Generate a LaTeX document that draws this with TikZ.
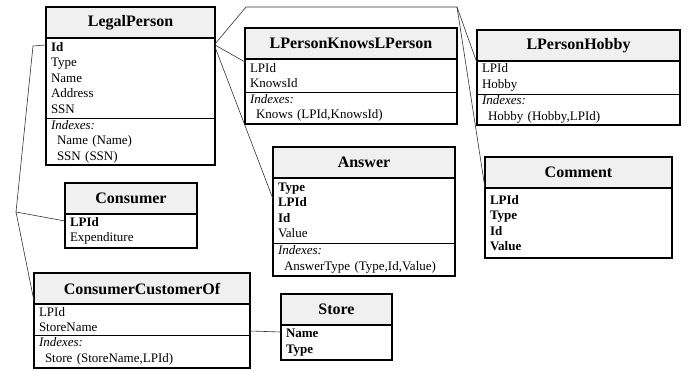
\documentclass[tikz,border=0pt]{standalone}
\usepackage{fontspec}
\setmainfont{Liberation Serif}
\usetikzlibrary{positioning}

\tikzset{
  ttl/.style={draw, line width=1.5pt, fill=gray!12, outer sep=0pt, inner sep=0pt,
    minimum height=31pt, font=\bfseries\fontsize{16}{18}\selectfont},
  sect/.style={draw, line width=0.6pt, outer sep=0pt, inner xsep=5pt, inner ysep=1pt,
    align=left, font=\fontsize{13}{15.5}\selectfont},
  frame/.style={line width=1.5pt},
  link/.style={black!80, line width=0.6pt}
}

\begin{document}
\begin{tikzpicture}[x=1pt, y=-1pt]
\useasboundingbox (0,0) rectangle (687,371);

% LegalPerson
\node[ttl, minimum width=169pt, anchor=north west] (lp) at (46,7) {LegalPerson};
\node[sect, text width=159pt, minimum height=80pt, below=0pt of lp] (lp-f)
  {\textbf{Id}\\Type\\Name\\Address\\SSN};
\node[sect, text width=159pt, minimum height=47pt, below=0pt of lp-f] (lp-i)
  {\textit{Indexes:}\\\hspace*{6pt}Name (Name)\\\hspace*{6pt}SSN (SSN)};
\draw[frame] (lp.north west) rectangle (lp-i.south east);

% LPersonKnowsLPerson
\node[ttl, minimum width=212pt, anchor=north west] (lk) at (245,28) {LPersonKnowsLPerson};
\node[sect, text width=202pt, minimum height=33pt, below=0pt of lk] (lk-f)
  {LPId\\KnowsId};
\node[sect, text width=202pt, minimum height=32pt, below=0pt of lk-f] (lk-i)
  {\textit{Indexes:}\\\hspace*{6pt}Knows (LPId,KnowsId)};
\draw[frame] (lk.north west) rectangle (lk-i.south east);

% LPersonHobby
\node[ttl, minimum width=203pt, anchor=north west] (hb) at (477,30) {LPersonHobby};
\node[sect, text width=193pt, minimum height=33pt, below=0pt of hb] (hb-f)
  {LPId\\Hobby};
\node[sect, text width=193pt, minimum height=31pt, below=0pt of hb-f] (hb-i)
  {\textit{Indexes:}\\\hspace*{6pt}Hobby (Hobby,LPId)};
\draw[frame] (hb.north west) rectangle (hb-i.south east);

% Answer
\node[ttl, minimum width=182pt, anchor=north west] (an) at (273,147) {Answer};
\node[sect, text width=172pt, minimum height=65pt, below=0pt of an] (an-f)
  {\textbf{Type}\\\textbf{LPId}\\\textbf{Id}\\Value};
\node[sect, text width=172pt, minimum height=33pt, below=0pt of an-f] (an-i)
  {\textit{Indexes:}\\\hspace*{6pt}AnswerType (Type,Id,Value)};
\draw[frame] (an.north west) rectangle (an-i.south east);

% Comment
\node[ttl, minimum width=187pt, anchor=north west] (cm) at (485,157) {Comment};
\node[sect, text width=177pt, minimum height=70pt, below=0pt of cm] (cm-f)
  {\textbf{LPId}\\\textbf{Type}\\\textbf{Id}\\\textbf{Value}};
\draw[frame] (cm.north west) rectangle (cm-f.south east);

% Consumer
\node[ttl, minimum width=132pt, anchor=north west] (cs) at (65,183) {Consumer};
\node[sect, text width=122pt, minimum height=34pt, below=0pt of cs] (cs-f)
  {\textbf{LPId}\\Expenditure};
\draw[frame] (cs.north west) rectangle (cs-f.south east);

% ConsumerCustomerOf
\node[ttl, minimum width=216pt, anchor=north west] (cc) at (34,273) {ConsumerCustomerOf};
\node[sect, text width=206pt, minimum height=31pt, below=0pt of cc] (cc-f)
  {LPId\\StoreName};
\node[sect, text width=206pt, minimum height=33pt, below=0pt of cc-f] (cc-i)
  {\textit{Indexes:}\\\hspace*{6pt}Store (StoreName,LPId)};
\draw[frame] (cc.north west) rectangle (cc-i.south east);

% Store
\node[ttl, minimum width=111pt, anchor=north west] (st) at (281,294) {Store};
\node[sect, text width=101pt, minimum height=35pt, below=0pt of st] (st-f)
  {\textbf{Name}\\\textbf{Type}};
\draw[frame] (st.north west) rectangle (st-f.south east);

% links
\coordinate (topL) at (246,7);
\coordinate (topR) at (457,7);
\coordinate (leftT) at (33,46);
\coordinate (leftB) at (16,212);
\draw[link] ([yshift=-7pt]lp-f.north east) -- ([yshift=-3pt]lk-f.north west);
\draw[link] ([yshift=-6pt]lp-f.north east) -- (topL) -- (topR) -- ([yshift=-2pt]hb-f.north west);
\draw[link] (topR) -- (cm-f.north west);
\draw[link] ([yshift=-9pt]lp-f.north east) -- ([yshift=-21pt]an-f.north west);
\draw[link] ([yshift=-7pt]lp-f.north west) -- (leftT) -- (leftB) -- ([yshift=-7pt]cs-f.north west);
\draw[link] (leftB) -- ([yshift=3pt]cc-f.north west);
\draw[link] ([yshift=-27pt]cc-f.north east) -- ([yshift=-7pt]st-f.north west);

\end{tikzpicture}
\end{document}
